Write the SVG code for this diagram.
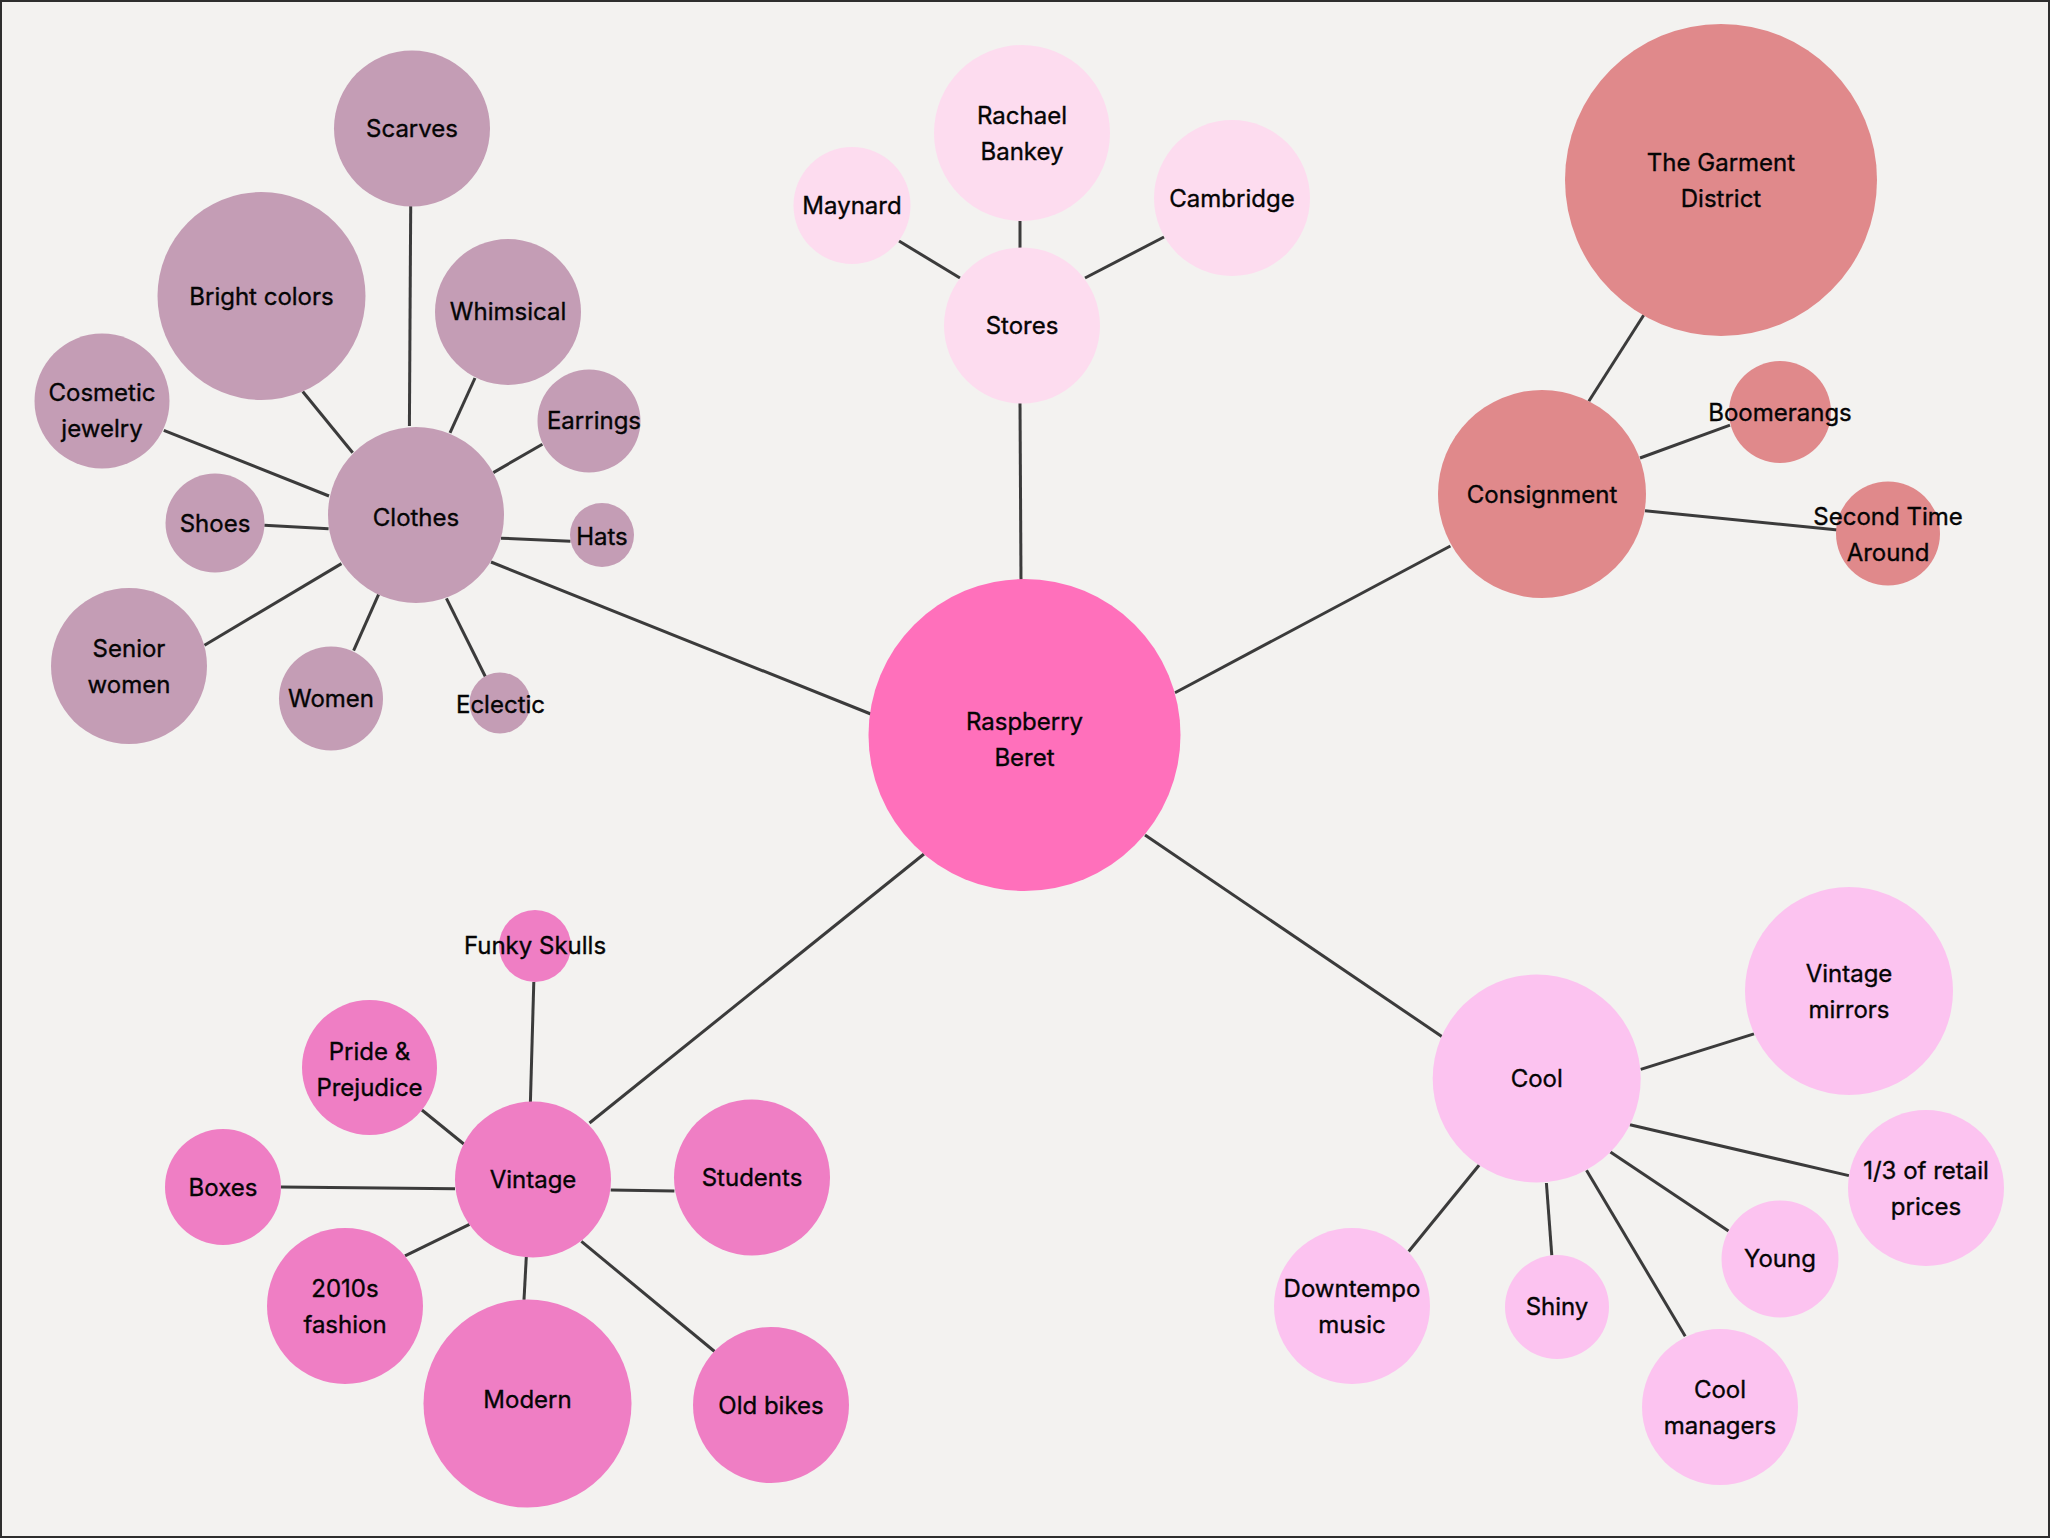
<svg xmlns="http://www.w3.org/2000/svg" width="2050" height="1538" viewBox="0 0 2050 1538">
<style>
.bg{fill:#f3f2f0;stroke:#2e2e2e;stroke-width:2}
.ln{stroke:#3b3b3b;stroke-width:3;fill:none;stroke-linecap:butt}
text{font-family:Inter,"Noto Sans","Liberation Sans",sans-serif;font-size:24px;font-weight:400;fill:#050505;stroke:#050505;stroke-width:0.35;text-anchor:middle;dominant-baseline:central}
.root{fill:#ff70bb}
.st{fill:#fddcef}
.co{fill:#e0898b}
.cl{fill:#c49db5}
.vi{fill:#ef7ec4}
.cool{fill:#fcc3f0}
</style>
<rect class="bg" x="1" y="1" width="2048" height="1536"/>
<g id="connectors">
<line class="ln" x1="410.7" y1="206" x2="409.4" y2="426"/>
<line class="ln" x1="302.7" y1="391.5" x2="352.7" y2="452.7"/>
<line class="ln" x1="475" y1="378" x2="450" y2="432.8"/>
<line class="ln" x1="542.4" y1="444.2" x2="493.3" y2="472.6"/>
<line class="ln" x1="163.8" y1="430.3" x2="329" y2="496"/>
<line class="ln" x1="264.3" y1="525.3" x2="328.6" y2="528.8"/>
<line class="ln" x1="501" y1="538.2" x2="570.5" y2="541.2"/>
<line class="ln" x1="204.5" y1="645.2" x2="341.5" y2="563.6"/>
<line class="ln" x1="353.6" y1="650.6" x2="378.6" y2="594.4"/>
<line class="ln" x1="485.3" y1="676.5" x2="446.4" y2="598.4"/>
<line class="ln" x1="491" y1="562" x2="872" y2="714.5"/>
<line class="ln" x1="1020" y1="219" x2="1020" y2="250"/>
<line class="ln" x1="899" y1="241" x2="960" y2="278"/>
<line class="ln" x1="1164" y1="237" x2="1085" y2="278"/>
<line class="ln" x1="1020" y1="402" x2="1021" y2="582"/>
<line class="ln" x1="1643.8" y1="315" x2="1588.8" y2="401.3"/>
<line class="ln" x1="1640" y1="458" x2="1730" y2="425.2"/>
<line class="ln" x1="1645" y1="510.7" x2="1838" y2="530"/>
<line class="ln" x1="1450.4" y1="546" x2="1175" y2="692.7"/>
<line class="ln" x1="924" y1="854" x2="589.5" y2="1123"/>
<line class="ln" x1="533.8" y1="982" x2="530.4" y2="1102"/>
<line class="ln" x1="421.9" y1="1110" x2="463.8" y2="1144"/>
<line class="ln" x1="281" y1="1187" x2="455" y2="1188.7"/>
<line class="ln" x1="405" y1="1255.9" x2="469.5" y2="1224.3"/>
<line class="ln" x1="526.3" y1="1257" x2="524" y2="1299.8"/>
<line class="ln" x1="581.4" y1="1241.4" x2="714.6" y2="1351.5"/>
<line class="ln" x1="610.7" y1="1190" x2="674.4" y2="1191"/>
<line class="ln" x1="1145" y1="835" x2="1441.8" y2="1036.5"/>
<line class="ln" x1="1640.7" y1="1069.4" x2="1754" y2="1033.9"/>
<line class="ln" x1="1629.9" y1="1124.7" x2="1848.9" y2="1175.6"/>
<line class="ln" x1="1610.4" y1="1151.9" x2="1728.5" y2="1230.9"/>
<line class="ln" x1="1586.5" y1="1170.3" x2="1685.2" y2="1336.2"/>
<line class="ln" x1="1546.4" y1="1183" x2="1551.8" y2="1255.4"/>
<line class="ln" x1="1479.2" y1="1165" x2="1408.7" y2="1251.5"/>
</g>
<g id="raspberry-beret"><circle class="root" cx="1024.5" cy="735" r="156"/><text x="1024.5" y="721">Raspberry</text><text x="1024.5" y="757">Beret</text></g>
<g id="stores"><circle class="st" cx="1022" cy="325.6" r="78"/><text x="1022" y="325">Stores</text></g>
<g id="rachael-bankey"><circle class="st" cx="1022" cy="133" r="88"/><text x="1022" y="115">Rachael</text><text x="1022" y="151">Bankey</text></g>
<g id="maynard"><circle class="st" cx="852" cy="205.5" r="58.5"/><text x="852" y="205">Maynard</text></g>
<g id="cambridge"><circle class="st" cx="1232" cy="198" r="78"/><text x="1232" y="198">Cambridge</text></g>
<g id="consignment"><circle class="co" cx="1542" cy="494" r="104"/><text x="1542" y="494">Consignment</text></g>
<g id="garment-district"><circle class="co" cx="1721" cy="180" r="156"/><text x="1721" y="162">The Garment</text><text x="1721" y="198">District</text></g>
<g id="boomerangs"><circle class="co" cx="1780" cy="412" r="51"/><text x="1780" y="412">Boomerangs</text></g>
<g id="second-time-around"><circle class="co" cx="1888" cy="533.5" r="52"/><text x="1888" y="516">Second Time</text><text x="1888" y="552">Around</text></g>
<g id="clothes"><circle class="cl" cx="416" cy="515" r="88"/><text x="416" y="517">Clothes</text></g>
<g id="scarves"><circle class="cl" cx="412" cy="128.5" r="78"/><text x="412" y="128">Scarves</text></g>
<g id="bright-colors"><circle class="cl" cx="261.5" cy="296" r="104"/><text x="261.5" y="296">Bright colors</text></g>
<g id="whimsical"><circle class="cl" cx="508" cy="312" r="73"/><text x="508" y="311">Whimsical</text></g>
<g id="earrings"><circle class="cl" cx="589" cy="421" r="51.5"/><text x="594" y="420">Earrings</text></g>
<g id="cosmetic-jewelry"><circle class="cl" cx="102" cy="401" r="67.5"/><text x="102" y="392">Cosmetic</text><text x="102" y="428">jewelry</text></g>
<g id="shoes"><circle class="cl" cx="215" cy="523" r="49.5"/><text x="215" y="523">Shoes</text></g>
<g id="hats"><circle class="cl" cx="602" cy="535" r="32"/><text x="602" y="536">Hats</text></g>
<g id="senior-women"><circle class="cl" cx="129" cy="666" r="78"/><text x="129" y="648">Senior</text><text x="129" y="684">women</text></g>
<g id="women"><circle class="cl" cx="331" cy="698.5" r="52"/><text x="331" y="698">Women</text></g>
<g id="eclectic"><circle class="cl" cx="500" cy="703" r="30.5"/><text x="500.5" y="704">Eclectic</text></g>
<g id="vintage"><circle class="vi" cx="533" cy="1179.5" r="78"/><text x="533" y="1179">Vintage</text></g>
<g id="funky-skulls"><circle class="vi" cx="535" cy="946" r="36"/><text x="535" y="945">Funky Skulls</text></g>
<g id="pride-prejudice"><circle class="vi" cx="369.5" cy="1067.5" r="67.5"/><text x="369.5" y="1051">Pride &amp;</text><text x="369.5" y="1087">Prejudice</text></g>
<g id="boxes"><circle class="vi" cx="223" cy="1187" r="58"/><text x="223" y="1187">Boxes</text></g>
<g id="students"><circle class="vi" cx="752" cy="1177.5" r="78"/><text x="752" y="1177">Students</text></g>
<g id="fashion-2010s"><circle class="vi" cx="345" cy="1306" r="78"/><text x="345" y="1288">2010s</text><text x="345" y="1324">fashion</text></g>
<g id="modern"><circle class="vi" cx="527.5" cy="1403.5" r="104"/><text x="527.5" y="1399">Modern</text></g>
<g id="old-bikes"><circle class="vi" cx="771" cy="1405" r="78"/><text x="771" y="1405">Old bikes</text></g>
<g id="cool"><circle class="cool" cx="1536.7" cy="1078.6" r="104"/><text x="1536.7" y="1078">Cool</text></g>
<g id="vintage-mirrors"><circle class="cool" cx="1849" cy="991" r="104"/><text x="1849" y="973">Vintage</text><text x="1849" y="1009">mirrors</text></g>
<g id="retail-prices"><circle class="cool" cx="1926" cy="1188" r="78"/><text x="1926" y="1170">1/3 of retail</text><text x="1926" y="1206">prices</text></g>
<g id="young"><circle class="cool" cx="1780" cy="1259" r="58.5"/><text x="1780" y="1258">Young</text></g>
<g id="cool-managers"><circle class="cool" cx="1720" cy="1407" r="78"/><text x="1720" y="1389">Cool</text><text x="1720" y="1425">managers</text></g>
<g id="shiny"><circle class="cool" cx="1557" cy="1307" r="52"/><text x="1557" y="1306">Shiny</text></g>
<g id="downtempo-music"><circle class="cool" cx="1352" cy="1306" r="78"/><text x="1352" y="1288">Downtempo</text><text x="1352" y="1324">music</text></g>
</svg>
